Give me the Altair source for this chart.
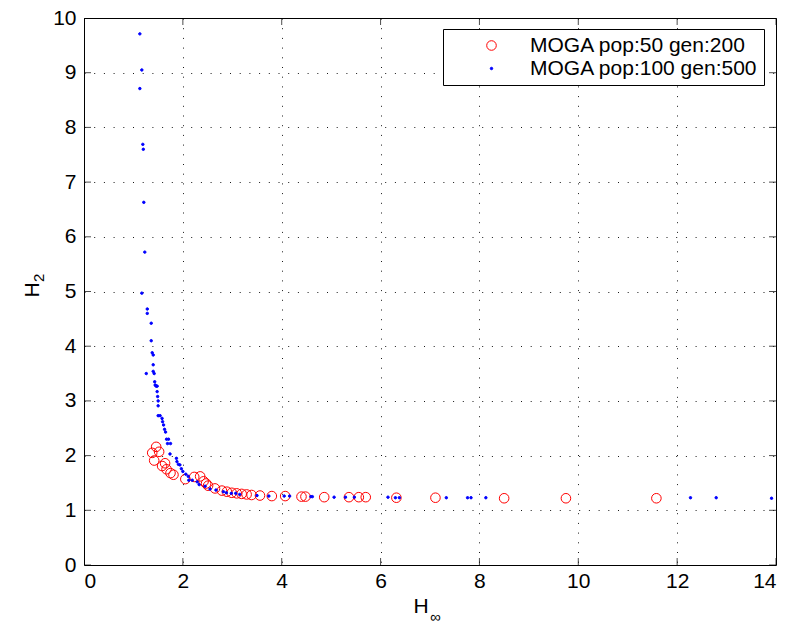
import altair as alt
import pandas as pd

# Pareto fronts (H_inf norm vs H_2 norm) found by two MOGA runs
red_label = "MOGA pop:50 gen:200"
blue_label = "MOGA pop:100 gen:500"

red_x = [1.46, 1.38, 1.52, 1.42, 1.58, 1.64, 1.67, 1.75, 1.81, 2.05, 2.23, 2.35, 2.42,
         2.47, 2.51, 2.65, 2.79, 2.89, 2.99, 3.09, 3.19, 3.29, 3.39, 3.56, 3.80, 4.07,
         4.40, 4.48, 4.86, 5.36, 5.56, 5.70, 6.32, 7.11, 8.50, 9.75, 11.58]
red_y = [2.16, 2.05, 2.07, 1.91, 1.81, 1.86, 1.75, 1.68, 1.65, 1.57, 1.61, 1.62, 1.53,
         1.49, 1.45, 1.40, 1.36, 1.34, 1.32, 1.31, 1.30, 1.29, 1.28, 1.27, 1.26, 1.26,
         1.25, 1.25, 1.24, 1.24, 1.24, 1.24, 1.23, 1.23, 1.22, 1.22, 1.22]

blue_x = [1.13, 1.17, 1.13, 1.19, 1.20, 1.21, 1.23, 1.17, 1.28, 1.28, 1.36, 1.36, 1.38,
          1.40, 1.40, 1.26, 1.40, 1.42, 1.43, 1.44, 1.46, 1.48, 1.48, 1.49, 1.50, 1.50,
          1.50, 1.54, 1.58, 1.59, 1.61, 1.63, 1.65, 1.67, 1.71, 1.69, 1.75, 1.74, 1.87,
          1.88, 1.91, 1.94, 1.97, 2.00, 2.06, 2.11, 2.12, 2.19, 2.29, 2.33, 2.45, 2.55,
          2.67, 2.82, 2.88, 2.98, 3.07, 3.15, 3.50, 3.74, 4.05, 4.16, 4.59, 4.62, 5.06,
          5.29, 5.47, 6.15, 6.30, 6.38, 7.33, 7.76, 7.83, 8.13, 12.27, 12.79, 13.91]
blue_y = [9.71, 9.05, 8.71, 7.69, 7.60, 6.63, 5.72, 4.97, 4.68, 4.60, 4.42, 4.10, 3.88,
          3.84, 3.66, 3.50, 3.54, 3.50, 3.35, 3.29, 3.27, 3.27, 3.17, 3.08, 3.00, 2.91,
          2.73, 2.73, 2.68, 2.62, 2.56, 2.48, 2.43, 2.30, 2.30, 2.22, 2.22, 2.03, 1.95,
          1.89, 1.84, 1.83, 1.76, 1.71, 1.66, 1.62, 1.55, 1.55, 1.52, 1.47, 1.44, 1.39,
          1.37, 1.34, 1.32, 1.31, 1.31, 1.29, 1.27, 1.26, 1.26, 1.26, 1.25, 1.25, 1.24,
          1.24, 1.24, 1.24, 1.23, 1.23, 1.23, 1.23, 1.23, 1.23, 1.23, 1.23, 1.22]

x_ticks = [0, 2, 4, 6, 8, 10, 12, 14]
y_ticks = [0, 1, 2, 3, 4, 5, 6, 7, 8, 9, 10]

W, H = 692, 547
FONT = "Liberation Sans"

pts = pd.DataFrame({
    "hinf": red_x + blue_x,
    "h2": red_y + blue_y,
    "run": [red_label] * len(red_x) + [blue_label] * len(blue_x),
})

x_scale = alt.Scale(domain=[0, 14], nice=False, zero=False)
y_scale = alt.Scale(domain=[0, 10], nice=False, zero=False)
run_domain = [red_label, blue_label]

x_axis = alt.Axis(values=x_ticks, title=None, grid=True, ticks=False, labelPadding=5,
                  labelFontSize=21, labelFont=FONT, labelColor="black", domain=False)
y_axis = alt.Axis(values=y_ticks, title=None, grid=True, ticks=False, labelPadding=8,
                  labelFontSize=21, labelFont=FONT, labelColor="black", domain=False)

points = alt.Chart(pts).mark_point(shape="circle", strokeWidth=1, opacity=1).encode(
    x=alt.X("hinf:Q", scale=x_scale, axis=x_axis),
    y=alt.Y("h2:Q", scale=y_scale, axis=y_axis),
    stroke=alt.Stroke("run:N", scale=alt.Scale(domain=run_domain, range=["#ff0000", "#0000ff"]),
                      legend=alt.Legend(title=None)),
    fill=alt.Fill("run:N", scale=alt.Scale(domain=run_domain, range=["transparent", "#0000ff"]),
                  legend=alt.Legend(title=None)),
    size=alt.Size("run:N", scale=alt.Scale(domain=run_domain, range=[92, 6]),
                  legend=alt.Legend(title=None)),
)

# short inward ticks on all four sides of the box
xt = pd.DataFrame({"v": x_ticks})
yt = pd.DataFrame({"v": y_ticks})
tick_bottom = alt.Chart(xt).mark_tick(color="black", size=14, thickness=1, clip=True).encode(
    x=alt.X("v:Q", scale=x_scale), y=alt.value(H))
tick_top = alt.Chart(xt).mark_tick(color="black", size=14, thickness=1, clip=True).encode(
    x=alt.X("v:Q", scale=x_scale), y=alt.value(0))
tick_left = alt.Chart(yt).mark_tick(color="black", size=14, thickness=1, clip=True).encode(
    y=alt.Y("v:Q", scale=y_scale), x=alt.value(0))
tick_right = alt.Chart(yt).mark_tick(color="black", size=14, thickness=1, clip=True).encode(
    y=alt.Y("v:Q", scale=y_scale), x=alt.value(W))

# axis titles with subscripts
lbl = pd.DataFrame({"t": ["H"]})
x_title = alt.Chart(lbl).mark_text(font=FONT, fontSize=21, color="black", align="center",
                                   baseline="alphabetic").encode(
    text="t:N", x=alt.value(337), y=alt.value(595))
x_sub = alt.Chart(pd.DataFrame({"t": ["\u221e"]})).mark_text(
    font=FONT, fontSize=15, color="black", align="left", baseline="alphabetic").encode(
    text="t:N", x=alt.value(346), y=alt.value(604))
y_title = alt.Chart(lbl).mark_text(font=FONT, fontSize=21, color="black", align="center",
                                   baseline="alphabetic", angle=270).encode(
    text="t:N", x=alt.value(-45), y=alt.value(272))
y_sub = alt.Chart(pd.DataFrame({"t": ["2"]})).mark_text(
    font=FONT, fontSize=15, color="black", align="left", baseline="alphabetic", angle=270).encode(
    text="t:N", x=alt.value(-40), y=alt.value(264))

chart = alt.layer(
    points, tick_bottom, tick_top, tick_left, tick_right, x_title, x_sub, y_title, y_sub
).properties(
    width=W, height=H,
    autosize=alt.AutoSizeParams(type="none"),
    padding={"left": 84, "top": 18, "right": 15, "bottom": 63},
    background="white",
).configure_view(
    stroke="black", strokeWidth=1, fill="white"
).configure_axis(
    gridColor="black", gridOpacity=0.9, gridWidth=1, gridDash=[1, 8.7],
).configure_legend(
    orient="none", legendX=359, legendY=11, padding=6,
    strokeColor="black", fillColor="white", cornerRadius=0,
    labelFont=FONT, labelFontSize=21, labelColor="black", labelLimit=400,
    symbolOffset=32, labelOffset=28, rowPadding=1, symbolStrokeWidth=1,
)

chart.save("out.html", embed_options={"renderer": "svg", "actions": False})
